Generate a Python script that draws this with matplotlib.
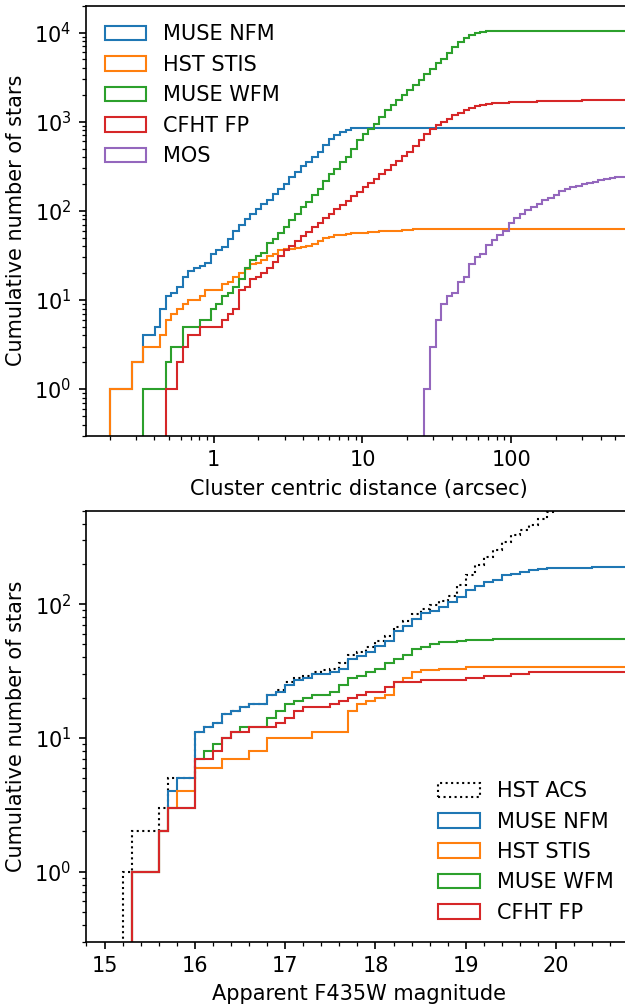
import numpy as np
import matplotlib
matplotlib.use("Agg")
import matplotlib.pyplot as plt
from matplotlib.ticker import FuncFormatter, NullFormatter, AutoMinorLocator

# ---------------- top panel: cumulative counts vs. cluster-centric distance ----------------
# logarithmic bins: first left edge (arcsec) and bin width (dex)
dist_first_edge = 0.2
dist_bin_dex = 0.03776

muse_nfm_r = [1, 1, 1, 1, 2, 2, 4, 4, 5, 8,
              11, 12, 14, 18, 21, 23, 24, 26, 33, 36,
              39, 48, 59, 70, 80, 93, 104, 118, 131, 155,
              177, 201, 239, 272, 315, 352, 400, 455, 541, 644,
              702, 764, 813, 841, 855, 860, 860, 860, 860, 860,
              860, 860, 860, 860, 860, 860, 860, 860, 860, 860,
              860, 860, 860, 860, 860, 860, 860, 860, 860, 860,
              860, 860, 860, 860, 860, 860, 860, 860, 860, 860,
              860, 860, 860, 860, 860, 860, 860, 860, 860, 860,
              860, 860, 860, 860]
hst_stis_r = [1, 1, 1, 1, 2, 2, 3, 3, 3, 4,
              6, 7, 8, 9, 10, 10, 11, 13, 13, 13,
              15, 16, 18, 20, 22, 25, 26, 28, 31, 33,
              36, 37, 37, 38, 39, 40, 42, 46, 50, 51,
              53, 54, 55, 56, 57, 57, 58, 58, 59, 59,
              60, 60, 61, 61, 62, 62, 63, 63, 63, 63,
              63, 63, 63, 63, 63, 63, 63, 63, 63, 63,
              63, 63, 63, 63, 63, 63, 63, 63, 63, 63,
              63, 63, 63, 63, 63, 63, 63, 63, 63, 63,
              63, 63, 63, 63]
muse_wfm_r = [0, 0, 0, 0, 0, 0, 1, 1, 1, 1,
              2, 3, 3, 5, 5, 5, 6, 6, 8, 9,
              11, 12, 14, 17, 23, 28, 31, 34, 43, 48,
              57, 65, 78, 92, 110, 127, 149, 177, 215, 256,
              297, 352, 400, 497, 617, 720, 834, 949, 1127, 1365,
              1525, 1750, 2000, 2250, 2600, 2913, 3460, 3944, 4550, 5100,
              5960, 6890, 7840, 8770, 9490, 10000, 10160, 10350, 10350, 10350,
              10350, 10350, 10350, 10350, 10350, 10350, 10350, 10350, 10350, 10350,
              10350, 10350, 10350, 10350, 10350, 10350, 10350, 10350, 10350, 10350,
              10350, 10350, 10350, 10350]
cfht_fp_r = [0, 0, 0, 0, 0, 0, 0, 0, 0, 0,
             1, 1, 2, 3, 4, 4, 5, 5, 5, 5,
             6, 7, 8, 13, 14, 17, 18, 20, 23, 27,
             31, 36, 40, 46, 52, 58, 65, 73, 82, 92,
             104, 116, 130, 146, 164, 183, 205, 230, 258, 290,
             325, 365, 410, 460, 540, 628, 733, 834, 908, 990,
             1081, 1178, 1262, 1339, 1436, 1486, 1538, 1593, 1617, 1630,
             1640, 1650, 1658, 1665, 1672, 1680, 1687, 1693, 1700, 1705,
             1710, 1715, 1720, 1724, 1728, 1732, 1736, 1740, 1743, 1746,
             1749, 1752, 1755, 1758]
mos_r = [0, 0, 0, 0, 0, 0, 0, 0, 0, 0,
         0, 0, 0, 0, 0, 0, 0, 0, 0, 0,
         0, 0, 0, 0, 0, 0, 0, 0, 0, 0,
         0, 0, 0, 0, 0, 0, 0, 0, 0, 0,
         0, 0, 0, 0, 0, 0, 0, 0, 0, 0,
         0, 0, 0, 0, 0, 0, 1, 3, 6, 9,
         11, 12, 16, 18, 25, 30, 33, 41, 47, 54,
         60, 73, 82, 91, 101, 110, 120, 131, 140, 152,
         166, 177, 184, 192, 199, 204, 212, 223, 229, 235,
         239, 240, 242, 244]

top_labels = ["MUSE NFM", "HST STIS", "MUSE WFM", "CFHT FP", "MOS"]
top_series = [muse_nfm_r, hst_stis_r, muse_wfm_r, cfht_fp_r, mos_r]
top_colors = ["C0", "C1", "C2", "C3", "C4"]

# ---------------- bottom panel: cumulative counts vs. F435W magnitude ----------------
mag_first_edge = 15.2
mag_bin = 0.1

hst_acs_m = [1, 2, 2, 2, 3, 5, 5, 5, 11, 12,
             13, 15, 16, 17, 18, 18, 21, 23, 26, 28,
             29, 31, 32, 33, 36, 42, 44, 48, 53, 58,
             68, 75, 84, 92, 98, 105, 116, 140, 166, 195,
             224, 256, 292, 331, 361, 394, 437, 490, 540, 590,
             640, 700, 760, 820, 880, 940, 1000, 1060]
muse_nfm_m = [0, 1, 1, 1, 2, 4, 5, 5, 11, 12,
              13, 15, 16, 17, 18, 18, 21, 22, 25, 27,
              28, 30, 30, 31, 33, 39, 41, 44, 49, 53,
              63, 69, 78, 86, 89, 96, 103, 114, 128, 136,
              146, 152, 164, 168, 174, 179, 183, 186, 186, 188,
              188, 188, 190, 190, 190, 190, 190, 190]
hst_stis_m = [0, 1, 1, 1, 2, 3, 4, 4, 6, 6,
              6, 7, 7, 7, 8, 8, 10, 10, 10, 10,
              10, 11, 11, 11, 11, 16, 18, 19, 20, 21,
              26, 28, 31, 32, 32, 33, 33, 33, 34, 34,
              34, 34, 34, 34, 34, 34, 34, 34, 34, 34,
              34, 34, 34, 34, 34, 34, 34, 34]
muse_wfm_m = [0, 1, 1, 1, 2, 3, 3, 3, 7, 8,
              9, 10, 11, 12, 12, 12, 14, 16, 18, 19,
              20, 21, 21, 22, 25, 28, 29, 31, 33, 36,
              39, 42, 46, 48, 50, 52, 52, 53, 54, 54,
              54, 55, 55, 55, 55, 55, 55, 55, 55, 55,
              55, 55, 55, 55, 55, 55, 55, 55]
cfht_fp_m = [0, 1, 1, 1, 2, 3, 3, 3, 7, 7,
             8, 10, 11, 11, 12, 12, 12, 13, 14, 16,
             17, 17, 17, 18, 19, 20, 21, 22, 22, 24,
             26, 26, 26, 27, 27, 27, 27, 27, 28, 28,
             29, 29, 29, 30, 30, 31, 31, 31, 31, 31,
             31, 31, 31, 31, 31, 31, 31, 31]

bot_labels = ["HST ACS", "MUSE NFM", "HST STIS", "MUSE WFM", "CFHT FP"]
bot_series = [hst_acs_m, muse_nfm_m, hst_stis_m, muse_wfm_m, cfht_fp_m]
bot_colors = ["k", "C0", "C1", "C2", "C3"]
bot_styles = [":", "-", "-", "-", "-"]

# ---------------- figure ----------------
W, H, DPI = 625, 1004, 150
fig = plt.figure(figsize=(W / DPI, H / DPI), dpi=DPI)
ax1 = fig.add_axes([86 / W, 1 - 435.7 / H, (632 - 86) / W, (435.7 - 5.7) / H])
ax2 = fig.add_axes([86 / W, 1 - 941.5 / H, (632 - 86) / W, (941.5 - 510.7) / H])

# top panel
n_top = len(muse_nfm_r)
lg0 = np.log10(dist_first_edge)
dist_edges = np.logspace(lg0, lg0 + dist_bin_dex * n_top, n_top + 1)
dist_centers = np.sqrt(dist_edges[:-1] * dist_edges[1:])
for vals, lab, col in zip(top_series, top_labels, top_colors):
    ax1.hist(dist_centers, bins=dist_edges, weights=vals, histtype="step",
             color=col, label=lab, log=True)
ax1.set_xscale("log")
ax1.set_yscale("log", nonpositive="clip")
ax1.set_xlim(0.1386, 648)
ax1.set_ylim(0.3, 2e4)
ax1.xaxis.set_major_formatter(FuncFormatter(lambda v, p: f"{v:g}"))
ax1.xaxis.set_minor_formatter(NullFormatter())
ax1.set_xlabel("Cluster centric distance (arcsec)")
ax1.set_ylabel("Cumulative number of stars")
ax1.legend(loc="upper left", frameon=False)

# bottom panel
n_bot = len(hst_acs_m)
mag_edges = np.round(mag_first_edge + mag_bin * np.arange(n_bot + 1), 2)
mag_centers = 0.5 * (mag_edges[:-1] + mag_edges[1:])
for vals, lab, col, ls in zip(bot_series, bot_labels, bot_colors, bot_styles):
    ax2.hist(mag_centers, bins=mag_edges, weights=vals, histtype="step",
             color=col, linestyle=ls, label=lab, log=True)
ax2.set_yscale("log", nonpositive="clip")
ax2.set_xlim(14.795, 20.84)
ax2.set_ylim(0.3, 500)
ax2.xaxis.set_minor_locator(AutoMinorLocator(5))
ax2.set_xlabel("Apparent F435W magnitude")
ax2.set_ylabel("Cumulative number of stars")
ax2.legend(loc="lower right", frameon=False)

fig.savefig("out.png", dpi=DPI)
